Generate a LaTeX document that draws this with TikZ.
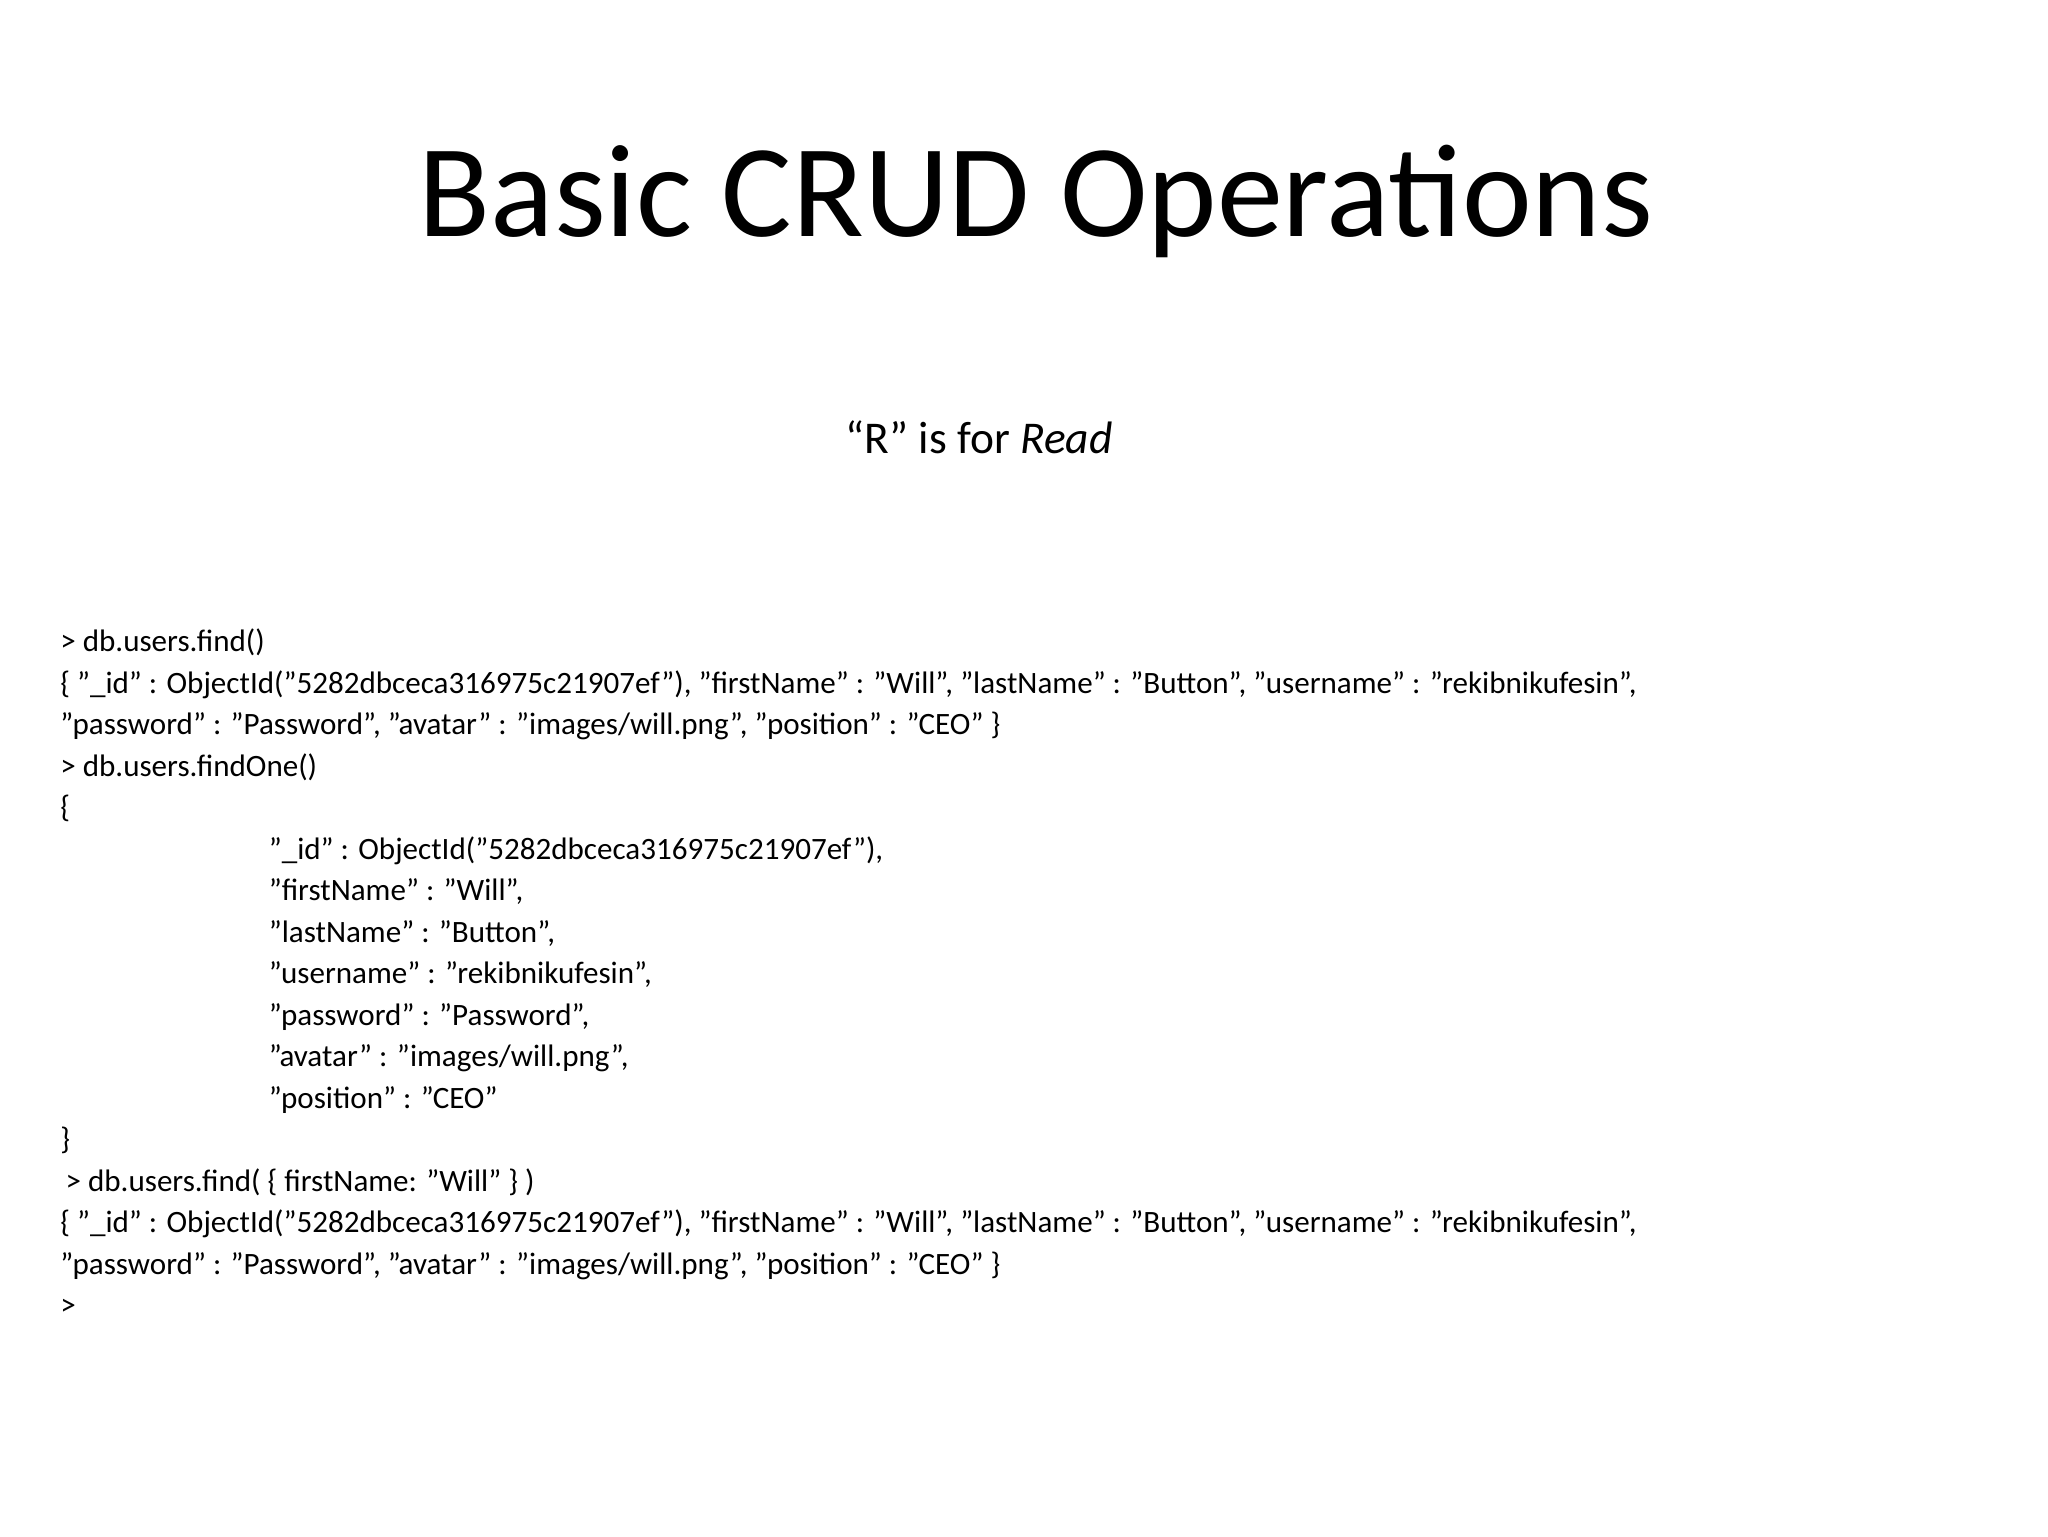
\documentclass[tikz,border=0pt]{standalone}
\usepackage{fontspec}
\setmainfont{Carlito}
\begin{document}
\begin{tikzpicture}[x=0.1mm,y=-0.1mm,
  ln/.style={anchor=base west,inner sep=0pt,font=\fontsize{6.7pt}{8pt}\selectfont}]
\useasboundingbox (0,0) rectangle (1552,1164);
\node[anchor=base,inner sep=0pt,font=\fontsize{28.5pt}{30pt}\selectfont] (title) at (785,179) {Basic CRUD Operations};
\node[anchor=base,inner sep=0pt,font=\fontsize{9.8pt}{11pt}\selectfont] (sub) at (742,344) {“R” is for \textit{Read}};
\def\L{31.45}
\node[ln] (l1) at (45,494) {> db.users.find()};
\node[ln] (l2) at (45,494+\L) {\{ "\_id" : ObjectId("5282dbceca316975c21907ef"), "firstName" : "Will", "lastName" : "Button", "username" : "rekibnikufesin",};
\node[ln] (l3) at (45,494+2*\L) {"password" : "Password", "avatar" : "images/will.png", "position" : "CEO" \}};
\node[ln] (l4) at (45,494+3*\L) {> db.users.findOne()};
\node[ln] (l5) at (45,494+4*\L) {\{};
\node[ln] (l6) at (203,494+5*\L) {"\_id" : ObjectId("5282dbceca316975c21907ef"),};
\node[ln] (l7) at (203,494+6*\L) {"firstName" : "Will",};
\node[ln] (l8) at (203,494+7*\L) {"lastName" : "Button",};
\node[ln] (l9) at (203,494+8*\L) {"username" : "rekibnikufesin",};
\node[ln] (l10) at (203,494+9*\L) {"password" : "Password",};
\node[ln] (l11) at (203,494+10*\L) {"avatar" : "images/will.png",};
\node[ln] (l12) at (203,494+11*\L) {"position" : "CEO"};
\node[ln] (l13) at (45,494+12*\L) {\}};
\node[ln] (l14) at (49,494+13*\L) {> db.users.find( \{ firstName: "Will" \} )};
\node[ln] (l15) at (45,494+14*\L) {\{ "\_id" : ObjectId("5282dbceca316975c21907ef"), "firstName" : "Will", "lastName" : "Button", "username" : "rekibnikufesin",};
\node[ln] (l16) at (45,494+15*\L) {"password" : "Password", "avatar" : "images/will.png", "position" : "CEO" \}};
\node[ln] (l17) at (45,494+16*\L) {>};
\end{tikzpicture}
\end{document}
